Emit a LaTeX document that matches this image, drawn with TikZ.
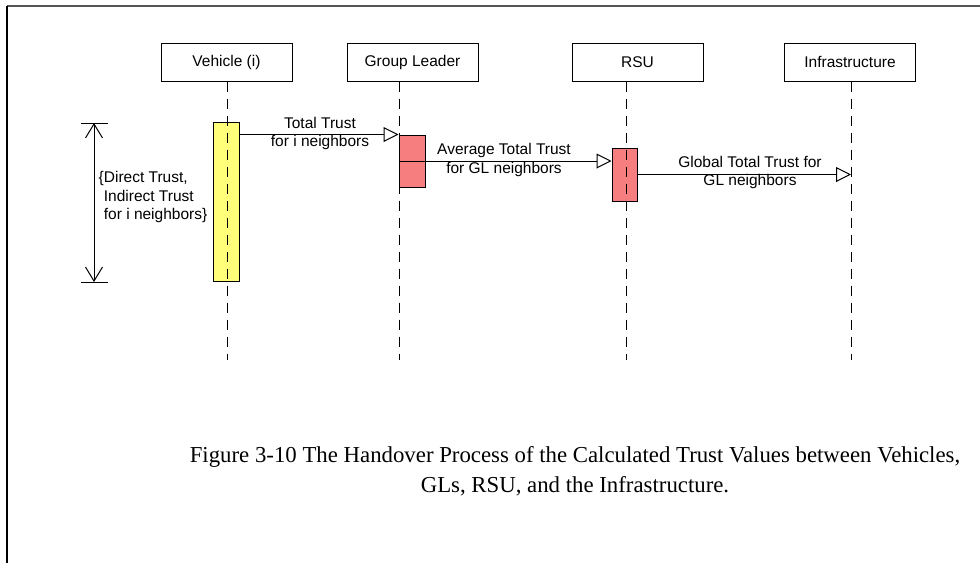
\documentclass[tikz,border=0pt]{standalone}
\usepackage{fontspec}
\setmainfont{Liberation Serif}
\newfontfamily\diagfont{Liberation Sans}
\usetikzlibrary{arrows.meta,calc}
\definecolor{barYellow}{RGB}{255,255,122}
\definecolor{barRed}{RGB}{247,126,126}
\definecolor{frameGray}{RGB}{85,85,85}
\begin{document}
\begin{tikzpicture}[x=1pt,y=-1pt,
  hdr/.style={draw, line width=1pt, fill=white, minimum width=131pt, minimum height=38pt, inner sep=0pt, font=\diagfont\fontsize{15.5}{18}\selectfont},
  life/.style={line width=1pt, dash pattern=on 10pt off 7pt},
  actbar/.style={draw, line width=1pt, inner sep=0pt},
  msg/.style={line width=1pt, -{Triangle[open, length=15pt, width=15pt, line width=1pt]}},
  lbl/.style={font=\diagfont\fontsize{15.5}{18.5}\selectfont, align=center, inner sep=0pt},
  dimarrow/.style={line width=1pt, {Straight Barb[length=14pt, width=17pt, line width=1pt]}-{Straight Barb[length=14pt, width=17pt, line width=1pt]}}
]
\useasboundingbox (0,0) rectangle (980,563);
% frame
\draw[frameGray, line width=2pt] (7,6) -- (980,6);
\draw[black, line width=1.5pt] (7,6) -- (7,563);

% header boxes
\node[hdr] (veh) at (226.5,62) {Vehicle (i)};
\node[hdr] (gl)  at (412.5,62) {Group Leader};
\node[hdr] (rsu) at (637.5,62) {RSU};
\node[hdr] (inf) at (850,62) {Infrastructure};

% activation bars
\node[actbar, fill=barYellow, minimum width=26pt, minimum height=159pt] (yb) at (226,201.5) {};
\node[actbar, fill=barRed, minimum width=26pt, minimum height=52pt] (glb) at (412,161) {};
\node[actbar, fill=barRed, minimum width=25pt, minimum height=53pt] (rb) at (624.5,174.5) {};

% lifeline anchors
\coordinate (vehx) at (227,0);
\coordinate (glx) at (399.5,0);
\coordinate (rsux) at (626,0);
\coordinate (infx) at (851,0);
\coordinate (lifeEnd) at (0,360);

% lifelines
\draw[life] (veh.south -| vehx) -- (lifeEnd -| vehx);
\draw[life] (gl.south -| glx) -- (lifeEnd -| glx);
\draw[life] (rsu.south -| rsux) -- (lifeEnd -| rsux);
\draw[life] (inf.south -| infx) -- (lifeEnd -| infx);

% messages
\draw[msg] (yb.east |- glb.north west) -- (glb.north west);
\draw[msg] (glb.west) -- (rb.west |- glb.west);
\draw[msg] (rb.east) -- (rb.east -| infx);

% message labels
\node[lbl] (l1) at (320,133.5) {Total Trust\\for i neighbors};
\node[lbl] (l2) at (504,160) {Average Total Trust\\for GL neighbors};
\node[lbl] (l3) at (750,172.5) {Global Total Trust for\\GL neighbors};

% dimension
\coordinate (dtop) at (94,123);
\coordinate (dbot) at (94,282);
\draw[line width=1pt] ($(dtop)+(-13,0)$) -- ($(dtop)+(14,0)$);
\draw[line width=1pt] ($(dbot)+(-13,0)$) -- ($(dbot)+(14,0)$);
\draw[dimarrow] (dtop) -- (dbot);
\node[lbl, align=left, anchor=west] (dl) at (98.5,197) {\{Direct Trust,\\\phantom{\{}Indirect Trust\\\phantom{\{}for i neighbors\}};

% caption
\node[font=\fontsize{22.8}{30}\selectfont, align=center, inner sep=0pt] (cap) at (575,471) {Figure 3-10 The Handover Process of the Calculated Trust Values between Vehicles,\\GLs, RSU, and the Infrastructure.};
\end{tikzpicture}
\end{document}
